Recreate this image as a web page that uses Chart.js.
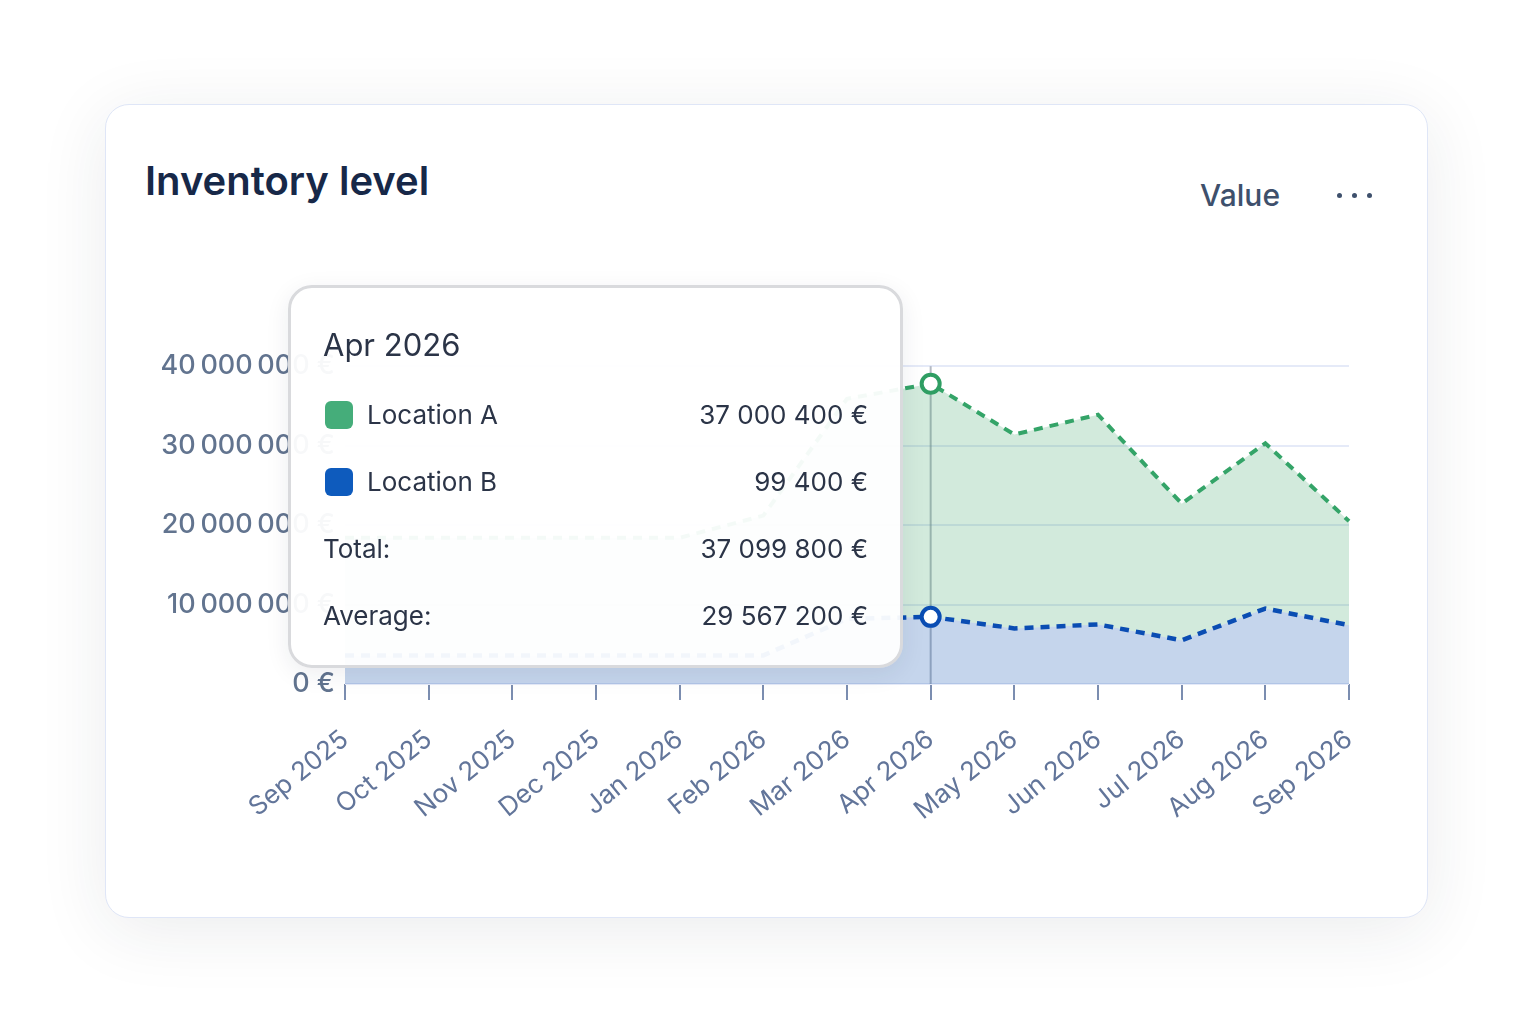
<!DOCTYPE html>
<html>
<head>
<meta charset="utf-8">
<script src="https://cdn.jsdelivr.net/npm/chart.js@4.4.1/dist/chart.umd.min.js"></script>
<style>
  html, body { margin: 0; padding: 0; background: #fff; }
  body { width: 1533px; height: 1023px; position: relative; overflow: hidden; font-family: Inter, "Noto Sans", sans-serif; }
  .card {
    position: absolute; left: 105px; top: 104px; width: 1321px; height: 812px;
    background: #fff; border: 1.5px solid #dfe6f7; border-radius: 24px;
    box-shadow: 0 12px 70px rgba(30, 40, 60, 0.09);
  }
  .title { position: absolute; left: 145px; top: 155px; font-size: 40px; font-weight: 600; color: #172848; line-height: 52px; }
  .mode { position: absolute; right: 253px; top: 175px; font-size: 30px; font-weight: 500; color: #3e506c; line-height: 40px; }
  .dots { position: absolute; left: 1337px; top: 193px; }
  .dots span { display: inline-block; vertical-align: top; width: 5px; height: 5px; border-radius: 50%; background: #3e506c; margin-right: 10px; }
  #wrap { position: absolute; left: 150px; top: 340px; width: 1230px; height: 520px; }
  .tip {
    position: absolute; left: 288px; top: 285px; width: 609px; height: 377px;
    border: 3px solid #d9dadd; border-radius: 24px;
    background: rgba(255, 255, 255, 0.95);
    box-shadow: 0 6px 24px rgba(30, 40, 60, 0.08);
    color: #2b3447;
  }
  .tip .t { position: absolute; left: 32px; top: 37px; font-size: 31px; line-height: 40px; }
  .tip .row { position: absolute; left: 32px; right: 32px; height: 40px; line-height: 40px; font-size: 26px; display: flex; align-items: center; }
  .tip .row .lab { flex: 1; display: flex; align-items: center; }
  .tip .sw { width: 28px; height: 28px; border-radius: 6px; margin: 0 14px 0 2px; }
</style>
</head>
<body>
<div class="card"></div>
<div class="title">Inventory level</div>
<div class="mode">Value</div>
<div class="dots"><span></span><span></span><span></span></div>
<div id="wrap"><canvas id="chart"></canvas></div>
<div class="tip" id="tip"></div>

<script>
// months on the x axis
const labels = ["Sep 2025", "Oct 2025", "Nov 2025", "Dec 2025", "Jan 2026", "Feb 2026", "Mar 2026",
  "Apr 2026", "May 2026", "Jun 2026", "Jul 2026", "Aug 2026", "Sep 2026"];

// inventory value per location
const locationA = [18400000, 18400000, 18400000, 18400000, 18400000, 21200000, 35900000,
  37800000, 31400000, 33900000, 22700000, 30300000, 20500000];
const locationB = [3600000, 3600000, 3600000, 3600000, 3600000, 3600000, 8200000,
  8450000, 7000000, 7500000, 5500000, 9500000, 7400000];

const yTicks = [0, 10000000, 20000000, 30000000, 40000000];

// hovered month and the figures shown in its tooltip
const activeIndex = 7;
const tipNames = ["Location A", "Location B"];
const tipColors = ["#45ad7a", "#0e5bbd"];
const tipValues = [37000400, 99400];
const tipAverage = 29567200;

const greenLine = "#34a468";
const blueLine = "#0a4db3";

function axisMoney(v) {
  return String(v).replace(/\B(?=(\d{3})+(?!\d))/g, "\u202F") + "\u00A0€";
}
function tipMoney(v) {
  return String(v).replace(/\B(?=(\d{3})+(?!\d))/g, " ") + " €";
}

// tooltip box
let tip = document.getElementById("tip");
let html = `<div class="t">${labels[activeIndex]}</div>`;
let rowTops = [107, 174, 241, 308];
for (let i = 0; i < tipNames.length; i++) {
  html += `<div class="row" style="top:${rowTops[i]}px"><div class="lab"><div class="sw" style="background:${tipColors[i]}"></div>${tipNames[i]}</div><div>${tipMoney(tipValues[i])}</div></div>`;
}
let total = tipValues.reduce((a, b) => a + b, 0);
html += `<div class="row" style="top:${rowTops[2]}px"><div class="lab">Total:</div><div>${tipMoney(total)}</div></div>`;
html += `<div class="row" style="top:${rowTops[3]}px"><div class="lab">Average:</div><div>${tipMoney(tipAverage)}</div></div>`;
tip.innerHTML = html;

// vertical hover line at the active month
const hoverLine = {
  id: "hoverLine",
  beforeDatasetsDraw(chart) {
    let x = chart.scales.x.getPixelForValue(activeIndex);
    let ctx = chart.ctx;
    ctx.save();
    ctx.strokeStyle = "rgba(120,130,145,0.55)";
    ctx.lineWidth = 2;
    ctx.beginPath();
    ctx.moveTo(x, chart.chartArea.top);
    ctx.lineTo(x, chart.chartArea.bottom);
    ctx.stroke();
    ctx.restore();
  }
};

const radiusAt = (ctx) => (ctx.dataIndex === activeIndex ? 9 : 0);

new Chart(document.getElementById("chart"), {
  type: "line",
  data: {
    labels: labels,
    datasets: [
      {
        label: "Location A",
        data: locationA,
        borderColor: greenLine,
        borderWidth: 4,
        borderDash: [9, 7],
        backgroundColor: "rgba(52,160,96,0.22)",
        fill: 1,
        tension: 0,
        order: 1,
        pointRadius: radiusAt,
        pointBorderWidth: 4,
        pointBorderColor: "#2f9e63",
        pointBackgroundColor: "#fff"
      },
      {
        label: "Location B",
        data: locationB,
        borderColor: blueLine,
        borderWidth: 4.5,
        borderDash: [9, 7],
        backgroundColor: "rgba(14,80,175,0.24)",
        fill: "origin",
        tension: 0,
        order: 0,
        pointRadius: radiusAt,
        pointBorderWidth: 4,
        pointBorderColor: blueLine,
        pointBackgroundColor: "#fff"
      }
    ]
  },
  options: {
    responsive: true,
    maintainAspectRatio: false,
    animation: false,
    events: [],
    layout: { padding: { top: 25, right: 31, left: 0, bottom: 0 } },
    plugins: {
      legend: { display: false },
      tooltip: { enabled: false }
    },
    scales: {
      x: {
        offset: false,
        afterFit(scale) {
          scale.height = 176;
          scale.paddingLeft = 0;
          scale.paddingRight = 0;
        },
        border: { display: false },
        grid: {
          drawOnChartArea: false,
          drawTicks: true,
          tickLength: 16,
          color: "#7b8db0",
          lineWidth: 2
        },
        ticks: {
          autoSkip: false,
          minRotation: 39,
          maxRotation: 39,
          padding: 24,
          color: "#62759a",
          font: { family: "Inter", size: 26 }
        }
      },
      y: {
        min: 0,
        max: 40000000,
        afterFit(scale) { scale.width = 195; },
        afterBuildTicks(scale) { scale.ticks = yTicks.map((v) => ({ value: v })); },
        border: { display: false },
        grid: { color: "#e5eaf8", lineWidth: 2, drawTicks: false },
        ticks: {
          padding: 10,
          color: "#62748f",
          font: { family: "Inter", size: 27, weight: 500 },
          callback: (v) => axisMoney(v)
        }
      }
    }
  },
  plugins: [hoverLine]
});
</script>
</body>
</html>
